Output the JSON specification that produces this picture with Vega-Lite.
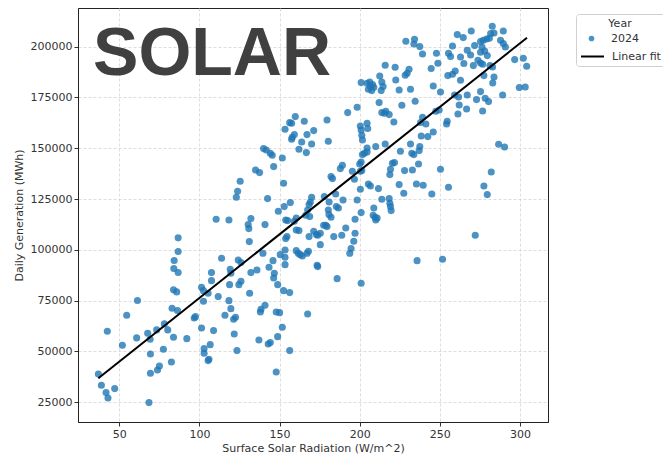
{
  "$schema": "https://vega.github.io/schema/vega-lite/v6.json",
  "width": 470,
  "height": 414,
  "autosize": {"type": "none"},
  "padding": {"left": 78, "top": 8, "right": 115, "bottom": 36},
  "background": "white",
  "config": {
    "view": {"stroke": "#222222", "strokeWidth": 1},
    "font": "DejaVu Sans",
    "axis": {
      "labelFont": "DejaVu Sans", "titleFont": "DejaVu Sans",
      "labelFontSize": 11, "titleFontSize": 11, "titleFontWeight": "normal",
      "labelColor": "#333333", "titleColor": "#333333",
      "domainColor": "#222222", "tickColor": "#333333", "tickSize": 4,
      "labelPadding": 2, "gridColor": "#d4d4d4", "gridDash": [3, 2], "gridWidth": 0.8
    },
    "legend": {
      "labelFont": "DejaVu Sans", "titleFont": "DejaVu Sans", "labelFontSize": 11, "titleFontSize": 11,
      "titleFontWeight": "normal", "labelColor": "#333333", "titleColor": "#333333"
    }
  },
  "datasets": {
    "pts": [
      {"r":36.9,"g":38960},{"r":38.8,"g":33380},{"r":41.7,"g":29770},{"r":42.9,"g":27140},{"r":47.1,"g":31730},{"r":42.5,"g":59960},{"r":51.9,"g":53070},{"r":54.6,"g":67840},{"r":60.8,"g":56680},{"r":61.3,"g":75060},{"r":68.5,"g":24840},{"r":67.7,"g":58980},{"r":69.2,"g":56020},{"r":69.4,"g":48800},{"r":69.4,"g":39280},{"r":73.3,"g":60620},{"r":73.8,"g":40920},{"r":75.0,"g":42890},{"r":77.5,"g":51100},{"r":78.1,"g":63570},{"r":80.2,"g":60620},{"r":82.5,"g":44860},{"r":82.9,"g":71280},{"r":83.8,"g":57000},{"r":83.8,"g":80310},{"r":85.8,"g":79320},{"r":86.7,"g":105900},{"r":86.7,"g":99180},{"r":84.2,"g":94750},{"r":84.0,"g":90810},{"r":86.7,"g":88840},{"r":86.3,"g":70130},
      {"r":131.1,"g":104050},{"r":139.6,"g":98300},{"r":113.8,"g":95850},{"r":107.5,"g":88800},{"r":107.5,"g":84860},{"r":119.2,"g":90400},{"r":119.6,"g":88470},{"r":124.2,"g":95030},{"r":125.9,"g":93720},{"r":101.3,"g":81580},{"r":102.5,"g":79940},{"r":102.5,"g":74690},{"r":105.4,"g":78630},{"r":111.7,"g":76990},{"r":118.8,"g":82890},{"r":124.6,"g":82890},{"r":125.9,"g":84530},{"r":132.1,"g":88800},{"r":135.9,"g":90110},{"r":131.3,"g":78630},{"r":143.4,"g":91420},{"r":145.9,"g":94700},{"r":146.7,"g":88470},{"r":146.3,"g":86170},{"r":148.8,"g":82890},{"r":150.4,"g":97650},{"r":153.4,"g":99950},{"r":153.4,"g":96340},{"r":153.4,"g":92730},{"r":152.5,"g":79940},{"r":156.3,"g":78960},{"r":160.4,"g":99620},{"r":161.7,"g":98300},{"r":162.9,"g":97650},{"r":164.2,"g":97000},{"r":168.0,"g":99290},{"r":167.1,"g":98300},{"r":175.4,"g":102570},{"r":173.4,"g":92400},{"r":173.8,"g":91750},{"r":185.9,"g":85840},{"r":193.8,"g":98300},{"r":118.4,"g":75020},{"r":119.6,"g":71080},{"r":115.9,"g":67800},{"r":121.3,"g":65830},{"r":122.5,"g":66820},{"r":121.7,"g":58620},{"r":123.4,"g":50420},{"r":96.7,"g":66490},{"r":97.5,"g":67140},{"r":101.3,"g":61570},{"r":108.8,"g":60260},{"r":92.1,"g":56320},{"r":106.7,"g":53370},{"r":102.9,"g":51400},{"r":102.9,"g":49100},{"r":105.9,"g":46150},{"r":105.4,"g":45500},{"r":140.9,"g":72720},{"r":138.4,"g":70760},{"r":138.0,"g":69440},{"r":147.9,"g":69440},{"r":150.0,"g":69110},{"r":151.7,"g":61900},{"r":148.8,"g":57300},{"r":137.1,"g":55670},{"r":142.9,"g":53700},{"r":144.2,"g":54360},{"r":156.3,"g":50420},{"r":147.9,"g":39920},{"r":167.5,"g":68460},
      {"r":159.8,"g":165560},{"r":156.3,"g":162600},{"r":157.5,"g":162280},{"r":165.4,"g":163260},{"r":153.4,"g":159330},{"r":159.2,"g":156700},{"r":157.9,"g":155390},{"r":157.5,"g":154410},{"r":167.1,"g":156700},{"r":171.3,"g":158670},{"r":179.6,"g":163920},{"r":192.5,"g":167530},{"r":163.8,"g":153100},{"r":170.0,"g":152110},{"r":162.1,"g":149490},{"r":166.7,"g":147850},{"r":180.4,"g":153420},{"r":140.0,"g":149820},{"r":141.7,"g":149160},{"r":144.2,"g":147520},{"r":145.4,"g":146540},{"r":151.7,"g":145230},{"r":146.3,"g":140960},{"r":135.0,"g":139320},{"r":137.5,"g":138010},{"r":125.4,"g":133750},{"r":123.8,"g":128820},{"r":123.0,"g":125870},{"r":142.5,"g":125210},{"r":152.5,"g":132760},{"r":156.7,"g":123250},{"r":152.9,"g":121280},{"r":149.2,"g":118980},{"r":153.8,"g":114720},{"r":155.0,"g":114390},{"r":160.4,"g":115700},{"r":159.2,"g":114060},{"r":166.3,"g":117000},{"r":168.8,"g":116360},{"r":167.5,"g":119640},{"r":169.2,"g":123580},{"r":170.0,"g":125870},{"r":177.9,"g":126200},{"r":182.1,"g":136040},{"r":183.0,"g":135060},{"r":187.9,"g":139980},{"r":189.2,"g":141620},{"r":185.0,"g":127510},{"r":189.6,"g":124560},{"r":185.4,"g":121280},{"r":186.7,"g":120620},{"r":180.4,"g":119640},{"r":180.8,"g":117340},{"r":182.1,"g":116030},{"r":178.8,"g":112090},{"r":191.3,"g":110780},{"r":110.4,"g":115050},{"r":118.4,"g":114720},{"r":132.1,"g":115380},{"r":130.4,"g":112420},{"r":130.8,"g":110450},{"r":140.9,"g":112420},{"r":171.3,"g":109140},{"r":173.0,"g":107500},{"r":175.4,"g":108160},{"r":173.8,"g":107180},{"r":177.5,"g":112090},{"r":179.6,"g":111440},{"r":183.8,"g":106520},{"r":188.8,"g":107180},{"r":160.4,"g":109800},{"r":162.1,"g":109470},{"r":154.6,"g":106520},{"r":153.8,"g":105540},{"r":168.4,"g":106520},{"r":168.4,"g":122260},{"r":180.9,"g":123570},
      {"r":228.8,"g":202630},{"r":234.2,"g":203620},{"r":233.8,"g":201320},{"r":237.5,"g":200010},{"r":239.2,"g":196400},{"r":247.9,"g":196730},{"r":255.4,"g":196730},{"r":256.7,"g":195090},{"r":257.9,"g":200340},{"r":260.9,"g":205910},{"r":248.8,"g":191810},{"r":244.6,"g":189190},{"r":215.9,"g":190830},{"r":222.1,"g":189840},{"r":230.8,"g":188860},{"r":229.6,"g":186890},{"r":228.4,"g":185910},{"r":222.5,"g":183610},{"r":212.5,"g":185580},{"r":200.9,"g":182300},{"r":204.6,"g":181970},{"r":206.3,"g":182630},{"r":208.0,"g":181320},{"r":206.7,"g":180330},{"r":208.8,"g":180000},{"r":205.4,"g":179020},{"r":207.5,"g":178360},{"r":213.8,"g":182630},{"r":214.6,"g":180330},{"r":213.4,"g":178360},{"r":224.6,"g":178690},{"r":231.7,"g":179020},{"r":245.9,"g":180650},{"r":250.4,"g":177700},{"r":198.4,"g":170160},{"r":212.1,"g":172450},{"r":234.6,"g":173110},{"r":226.3,"g":171140},{"r":213.8,"g":167530},{"r":216.3,"g":168190},{"r":218.4,"g":166550},{"r":215.4,"g":167200},{"r":221.3,"g":162950},{"r":200.4,"g":160980},{"r":204.6,"g":162290},{"r":205.0,"g":159670},{"r":200.9,"g":159010},{"r":201.3,"g":156380},{"r":201.7,"g":154090},{"r":239.2,"g":165240},{"r":238.0,"g":162620},{"r":241.3,"g":161960},{"r":245.9,"g":158030},{"r":242.5,"g":155730},{"r":238.4,"g":156060},{"r":247.5,"g":168190},{"r":249.6,"g":168850},{"r":254.6,"g":163260},{"r":254.2,"g":161960},{"r":261.3,"g":166880},{"r":210.0,"g":150810},{"r":204.6,"g":150150},{"r":215.9,"g":152120},{"r":231.7,"g":152120},{"r":237.5,"g":150810},{"r":255.0,"g":185740},{"r":257.9,"g":186400},{"r":259.6,"g":188040},{"r":259.2,"g":176230},{"r":261.7,"g":175240},
      {"r":282.7,"g":210010},{"r":269.6,"g":207720},{"r":289.6,"g":207720},{"r":281.7,"g":206400},{"r":283.8,"g":206730},{"r":264.6,"g":204440},{"r":275.4,"g":202470},{"r":277.1,"g":203130},{"r":279.2,"g":203780},{"r":280.9,"g":204110},{"r":287.9,"g":203130},{"r":289.6,"g":201490},{"r":290.9,"g":199850},{"r":271.7,"g":200500},{"r":276.3,"g":199850},{"r":267.1,"g":198210},{"r":269.2,"g":195910},{"r":275.4,"g":197220},{"r":278.0,"g":197880},{"r":279.6,"g":195580},{"r":262.9,"g":194920},{"r":265.0,"g":191650},{"r":270.9,"g":190660},{"r":273.8,"g":193280},{"r":275.4,"g":191970},{"r":276.7,"g":191320},{"r":281.3,"g":190660},{"r":282.9,"g":190000},{"r":296.7,"g":193610},{"r":302.1,"g":194270},{"r":304.2,"g":190330},{"r":277.5,"g":185740},{"r":283.8,"g":185090},{"r":283.0,"g":182140},{"r":262.9,"g":183450},{"r":299.6,"g":179840},{"r":303.3,"g":180170},{"r":275.4,"g":177870},{"r":272.9,"g":173930},{"r":278.3,"g":174590},{"r":280.4,"g":172950},{"r":289.2,"g":176230},{"r":267.1,"g":176230},{"r":262.1,"g":171310},{"r":266.7,"g":169340},{"r":276.7,"g":168350},{"r":286.7,"g":151950},{"r":290.4,"g":150640},
      {"r":201.7,"g":146860},{"r":202.9,"g":147520},{"r":204.6,"g":148170},{"r":225.4,"g":148500},{"r":232.5,"g":147520},{"r":233.8,"g":146860},{"r":237.1,"g":148830},{"r":200.0,"g":142270},{"r":200.9,"g":143250},{"r":201.3,"g":138990},{"r":200.4,"g":138660},{"r":195.4,"g":138660},{"r":196.7,"g":134730},{"r":219.2,"g":139640},{"r":218.8,"g":137020},{"r":220.4,"g":142600},{"r":221.7,"g":142930},{"r":228.0,"g":138990},{"r":232.9,"g":139320},{"r":236.7,"g":142270},{"r":250.4,"g":139640},{"r":282.1,"g":138330},{"r":277.5,"g":131450},{"r":279.6,"g":127180},{"r":255.4,"g":130790},{"r":245.0,"g":127510},{"r":239.6,"g":131780},{"r":235.4,"g":132430},{"r":224.6,"g":132100},{"r":227.5,"g":127840},{"r":211.7,"g":130130},{"r":205.4,"g":132430},{"r":206.7,"g":131450},{"r":200.4,"g":129810},{"r":213.8,"g":124890},{"r":198.4,"g":124560},{"r":218.4,"g":125210},{"r":218.8,"g":122920},{"r":219.2,"g":121280},{"r":219.6,"g":119310},{"r":208.8,"g":120620},{"r":208.4,"g":117010},{"r":209.6,"g":116030},{"r":210.0,"g":114720},{"r":210.9,"g":115700},{"r":200.9,"g":118320},{"r":197.1,"g":115040},{"r":197.1,"g":108160},{"r":196.3,"g":104210},{"r":194.6,"g":100610},{"r":272.1,"g":107180},{"r":235.8,"g":94700},{"r":251.7,"g":95360},{"r":200.9,"g":83550}
    ],
    "fit": [{"r": 36.9, "g": 36800}, {"r": 304.4, "g": 204400}],
    "label": [{"r": 33.6, "g": 186060, "text": "SOLAR"}]
  },
  "layer": [
    {
      "data": {"name": "pts"},
      "mark": {"type": "circle", "size": 50, "opacity": 0.8},
      "encoding": {
        "x": {"field": "r", "type": "quantitative",
              "scale": {"domain": [24.2, 317.5], "nice": false, "zero": false},
              "axis": {"title": "Surface Solar Radiation (W/m^2)", "values": [50, 100, 150, 200, 250, 300], "grid": true, "titlePadding": 3}},
        "y": {"field": "g", "type": "quantitative",
              "scale": {"domain": [15300, 219000], "nice": false, "zero": false},
              "axis": {"title": "Daily Generation (MWh)", "values": [25000, 50000, 75000, 100000, 125000, 150000, 175000, 200000], "format": "d", "grid": true, "titlePadding": 6}},
        "color": {
          "datum": "2024", "type": "nominal",
          "scale": {"domain": ["2024"], "range": ["#1f77b4"]},
          "legend": {
            "title": null, "orient": "none", "legendX": 508, "legendY": 25,
            "padding": 0, "symbolSize": 32, "labelOffset": 14, "symbolType": "circle"
          }
        }
      }
    },
    {
      "data": {"name": "fit"},
      "mark": {"type": "line", "strokeWidth": 2},
      "encoding": {
        "x": {"field": "r", "type": "quantitative"},
        "y": {"field": "g", "type": "quantitative"},
        "stroke": {
          "datum": "Linear fit", "type": "nominal",
          "scale": {"domain": ["Linear fit"], "range": ["#000000"]},
          "legend": {
            "title": "Year", "orient": "none", "legendX": 498, "legendY": 6,
            "titleAnchor": "middle", "titlePadding": 15,
            "strokeColor": "#d0d0d0", "cornerRadius": 3, "padding": 4,
            "symbolType": "stroke", "symbolSize": 529, "symbolStrokeWidth": 2, "labelOffset": 7
          }
        }
      }
    },
    {
      "data": {"name": "label"},
      "mark": {"type": "text", "font": "Liberation Sans", "fontWeight": "bold", "fontSize": 68, "align": "left", "baseline": "alphabetic", "color": "#404040"},
      "encoding": {
        "x": {"field": "r", "type": "quantitative"},
        "y": {"field": "g", "type": "quantitative"},
        "text": {"field": "text"}
      }
    }
  ]
}
